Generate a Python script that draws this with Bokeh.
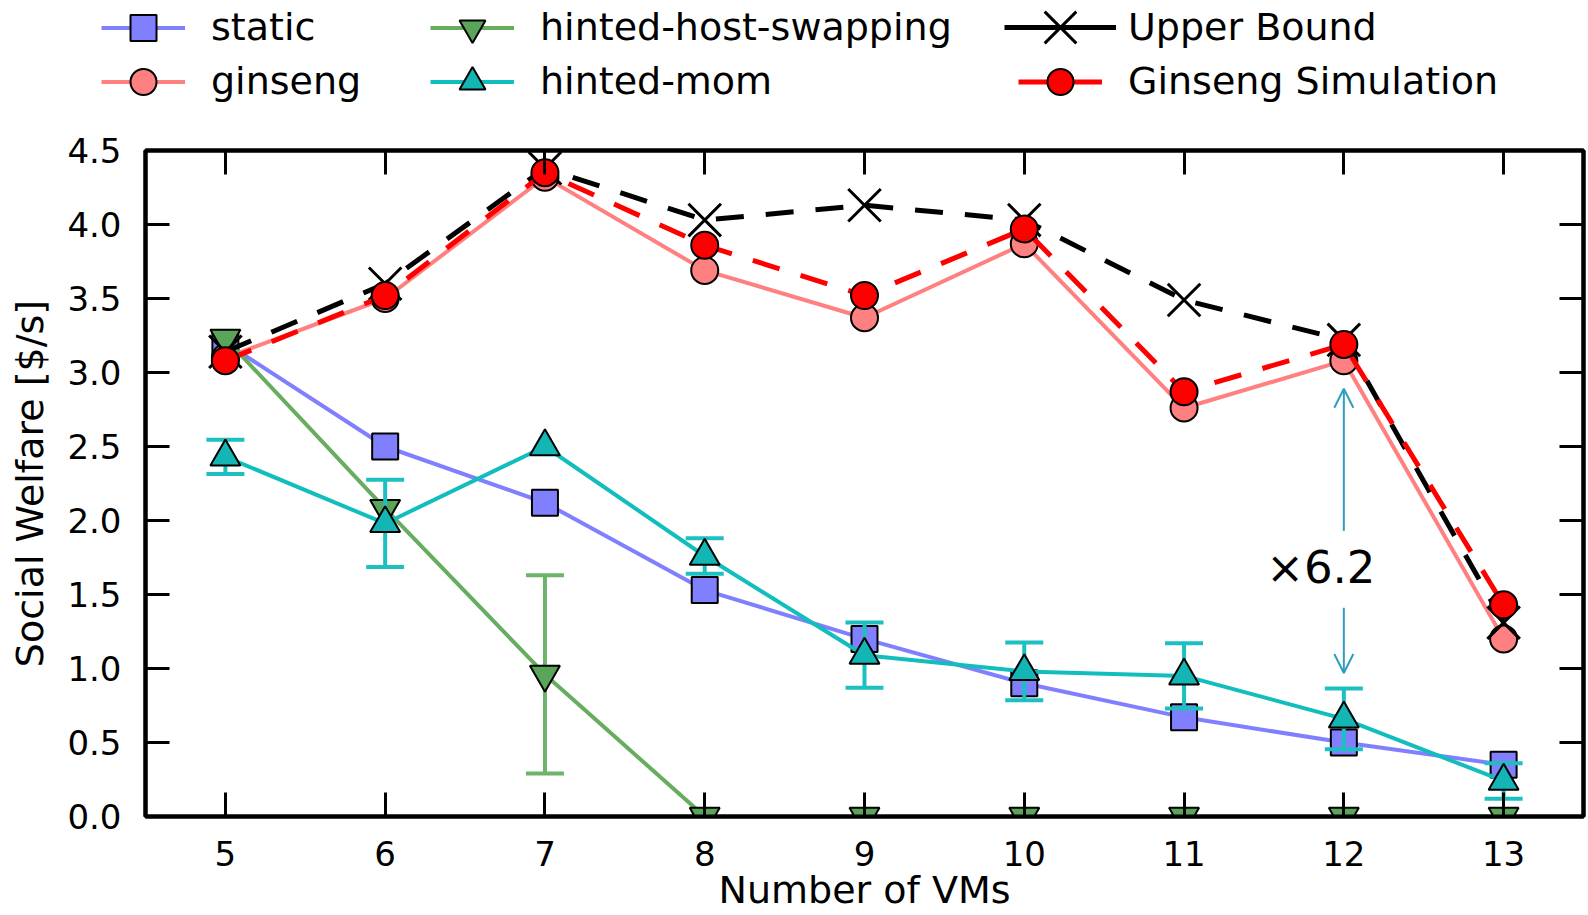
from bokeh.plotting import figure
from bokeh.models import (ColumnDataSource, Legend, LegendItem, LinearAxis, Range1d,
                          FixedTicker, PrintfTickFormatter, Arrow, OpenHead, Label)
from bokeh.embed import file_html
from bokeh.resources import INLINE

# ---- data -------------------------------------------------------------
vms = [5, 6, 7, 8, 9, 10, 11, 12, 13]
static = [3.20, 2.50, 2.12, 1.53, 1.20, 0.90, 0.67, 0.50, 0.35]
ginseng = [3.10, 3.50, 4.32, 3.69, 3.37, 3.87, 2.76, 3.08, 1.20]
host_swapping = [3.23, 2.08, 0.96, 0.0, 0.0, 0.0, 0.0, 0.0, 0.0]
host_swapping_err = [0.0, 0.0, 0.67, 0.0, 0.0, 0.0, 0.0, 0.0, 0.0]
mom = [2.43, 1.98, 2.50, 1.76, 1.09, 0.98, 0.95, 0.66, 0.24]
mom_err = [0.115, 0.295, 0.0, 0.12, 0.22, 0.195, 0.22, 0.205, 0.12]
upper_bound = [3.14, 3.60, 4.38, 4.03, 4.13, 4.03, 3.49, 3.22, 1.31]
simulation = [3.08, 3.52, 4.35, 3.86, 3.52, 3.97, 2.87, 3.19, 1.43]

x_ticks = [5, 6, 7, 8, 9, 10, 11, 12, 13]
y_ticks = [0.0, 0.5, 1.0, 1.5, 2.0, 2.5, 3.0, 3.5, 4.0, 4.5]

FONT = "DejaVu Sans"

series = [
    # label, values, line colour, marker fill, marker, size, dash, width, errors, error colour
    ("static", static, "#8080ff", "#8080ff", "square", 26, "solid", 4, None, None),
    ("ginseng", ginseng, "#ff8080", "#ff8080", "circle", 27, "solid", 4, None, None),
    ("hinted-host-swapping", host_swapping, "#66ad5f", "#5aa55a", "inverted_triangle", 30,
     "solid", 4, host_swapping_err, "#6db36a"),
    ("hinted-mom", mom, "#12bdbd", "#13b5b5", "triangle", 30, "solid", 4, mom_err, "#1cc0c0"),
    ("Upper Bound", upper_bound, "black", None, "x", 46, "28 22", 5, None, None),
    ("Ginseng Simulation", simulation, "#ff0000", "#ff0000", "circle", 27, "28 22", 5, None, None),
]
sources = {lab: ColumnDataSource(dict(x=vms, y=vals)) for lab, vals, *_ in series}

# ---- main plot --------------------------------------------------------
p = figure(width=1588, height=805,
           x_range=Range1d(4.5, 13.5), y_range=Range1d(0, 4.5),
           output_backend="svg", toolbar_location=None,
           min_border_left=145, min_border_right=5,
           min_border_top=40, min_border_bottom=99)
p.grid.visible = False
p.outline_line_color = "black"
p.outline_line_width = 4

bottom = p.below[0]
left = p.left[0]
top = LinearAxis()
right = LinearAxis()
p.add_layout(top, "above")
p.add_layout(right, "right")

for ax in (bottom, top):
    ax.ticker = FixedTicker(ticks=x_ticks)
for ax in (left, right):
    ax.ticker = FixedTicker(ticks=y_ticks)
    ax.formatter = PrintfTickFormatter(format="%.1f")

for ax in (bottom, left, top, right):
    ax.axis_line_width = 4
    ax.axis_line_color = "black"
    ax.major_tick_in = 24
    ax.major_tick_out = 0
    ax.major_tick_line_width = 3
    ax.major_tick_line_color = "black"
    ax.minor_tick_line_color = None
    ax.major_label_text_font = FONT
    ax.major_label_text_font_size = "34px"
    ax.major_label_text_color = "black"
    ax.axis_label_text_font = FONT
    ax.axis_label_text_font_size = "38px"
    ax.axis_label_text_font_style = "normal"
    ax.axis_label_text_color = "black"

bottom.major_label_standoff = 24
bottom.axis_label = "Number of VMs"
bottom.axis_label_standoff = -1
left.major_label_standoff = 24
left.axis_label = "Social Welfare [$/s]"
left.axis_label_standoff = 12

# mirrored axes carry ticks only
top.major_label_overrides = {t: "" for t in x_ticks}
right.major_label_overrides = {t: "" for t in y_ticks}
for ax in (top, right):
    ax.major_label_text_color = None
    ax.major_label_standoff = 0


def add_series(fig, src, color, fill, marker, size, dash, width):
    ln = fig.line("x", "y", source=src, line_color=color, line_width=width, line_dash=dash)
    if marker == "x":
        pt = fig.scatter("x", "y", source=src, marker="x", size=size,
                         line_color="black", line_width=3)
    else:
        pt = fig.scatter("x", "y", source=src, marker=marker, size=size,
                         fill_color=fill, line_color="black", line_width=2)
    return ln, pt


def add_errors(values, errs, color):
    xs = [x for x, e in zip(vms, errs) if e > 0]
    lo = [v - e for v, e in zip(values, errs) if e > 0]
    hi = [v + e for v, e in zip(values, errs) if e > 0]
    esrc = ColumnDataSource(dict(x=xs, lo=lo, hi=hi))
    p.segment("x", "lo", "x", "hi", source=esrc, line_color=color, line_width=4)
    for col in ("lo", "hi"):
        p.scatter("x", col, source=esrc, marker="dash", size=38,
                  line_color=color, line_width=4)


for lab, vals, col, fill, mk, sz, dash, lw, errs, ecol in series:
    src = sources[lab]
    p.line("x", "y", source=src, line_color=col, line_width=lw, line_dash=dash)
    if errs is not None:
        add_errors(vals, errs, ecol)
    if mk == "x":
        p.scatter("x", "y", source=src, marker="x", size=sz,
                  line_color="black", line_width=3)
    else:
        p.scatter("x", "y", source=src, marker=mk, size=sz,
                  fill_color=fill, line_color="black", line_width=2)

# ---- ratio annotation at 12 VMs ---------------------------------------
i12 = vms.index(12)
ratio = ginseng[i12] / static[i12]
arrow_color = "#2e9dbe"
p.add_layout(Arrow(end=OpenHead(size=19, line_color=arrow_color, line_width=2),
                   x_start=12, y_start=1.93, x_end=12, y_end=ginseng[i12] - 0.19,
                   line_color=arrow_color, line_width=2))
p.add_layout(Arrow(end=OpenHead(size=19, line_color=arrow_color, line_width=2),
                   x_start=12, y_start=1.41, x_end=12, y_end=static[i12] + 0.47,
                   line_color=arrow_color, line_width=2))
p.add_layout(Label(x=12, y=1.68, x_offset=-23, text="\u00d7%.1f" % ratio,
                   text_align="center", text_baseline="middle",
                   text_font=FONT, text_font_size="45px", text_color="black"))

# ---- legend strip above the plot --------------------------------------
# the strip's ranges lie outside the data, so only the legend swatches show
STRIP_H = 110
lg = figure(width=1588, height=STRIP_H, x_range=Range1d(0, 1), y_range=Range1d(0, 1),
            x_axis_type=None, y_axis_type=None,
            output_backend="svg", toolbar_location=None, min_border=0,
            outline_line_color=None)
lg.grid.visible = False

col_left = [101, 430, 1018]      # left edge of each legend column
row_mid = [27, 81]               # vertical centre of each legend row
SWATCH_W = 84                    # nominal swatch width
TEXT_GAP = 26                    # gap between swatch and label

for k, (lab, vals, col, fill, mk, sz, dash, lw, errs, ecol) in enumerate(series):
    ln, pt = add_series(lg, sources[lab], col, fill, mk, sz, "solid", lw)
    # legend markers are drawn at 0.4 x the smaller swatch side
    box = 112 if mk == "x" else 65
    gw = max(SWATCH_W, box)
    extra = (gw - SWATCH_W) / 2      # swatch grows equally on both sides
    leg = Legend(items=[LegendItem(label=lab, renderers=[ln, pt])],
                 location=(col_left[k // 2] - extra, STRIP_H - row_mid[k % 2] - box / 2),
                 orientation="vertical",
                 glyph_width=int(gw), glyph_height=box,
                 label_standoff=int(TEXT_GAP - extra),
                 spacing=0, padding=0, margin=0, border_line_color=None,
                 background_fill_alpha=0,
                 label_text_font=FONT, label_text_font_size="38px",
                 label_text_color="black", label_text_baseline="middle")
    lg.add_layout(leg, "center")

open("out.html", "w").write(file_html([lg, p], INLINE))
